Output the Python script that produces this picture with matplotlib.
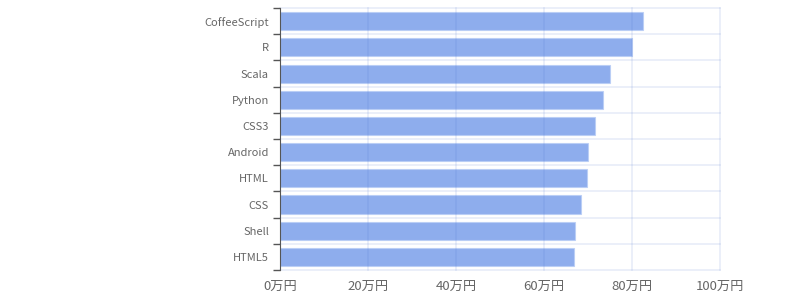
import matplotlib.pyplot as plt
import numpy as np

plt.rcParams['font.family'] = ['Noto Sans CJK JP', 'DejaVu Sans']

langs = ['CoffeeScript', 'R', 'Scala', 'Python', 'CSS3', 'Android', 'HTML', 'CSS', 'Shell', 'HTML5']
salary = [82.5, 80.0, 75.0, 73.4, 71.6, 70.0, 69.7, 68.5, 67.0, 66.9]  # 万円
xticks = [0, 20, 40, 60, 80, 100]

fig = plt.figure(figsize=(8, 3), dpi=100)
ax = fig.add_axes([0.35, 0.1, 0.55, 0.873])

y = np.arange(len(langs))
ax.barh(y, salary, height=0.69, color='#7a9fea', alpha=0.85,
        edgecolor='#b9cdf5', linewidth=0.8, zorder=2)

ax.set_xlim(0, 100)
ax.set_ylim(len(langs) - 0.5, -0.5)
ax.set_xticks(xticks)
ax.set_xticklabels([f'{v}万円' for v in xticks])
ax.set_yticks(y)
ax.set_yticklabels(langs)
ax.set_yticks(np.arange(len(langs) + 1) - 0.5, minor=True)

# grid lines drawn over the bars, translucent
for v in xticks[1:]:
    ax.axvline(v, color='#4a70cc', alpha=0.14, lw=1.1, zorder=3, clip_on=False)
for b in np.arange(len(langs) + 1) - 0.5:
    ax.axhline(b, color='#4a70cc', alpha=0.14, lw=1.1, zorder=1, clip_on=False)

for s in ['top', 'right', 'bottom']:
    ax.spines[s].set_visible(False)
ax.spines['left'].set_color('#555555')
ax.spines['left'].set_zorder(4)

ax.tick_params(axis='y', which='major', length=0, pad=8, labelsize=8, labelcolor='#666666')
ax.tick_params(axis='y', which='minor', length=5, color='#555555', width=1)
ax.tick_params(axis='x', length=0, pad=7, labelsize=9.5, labelcolor='#666666')

fig.savefig('out.png')
